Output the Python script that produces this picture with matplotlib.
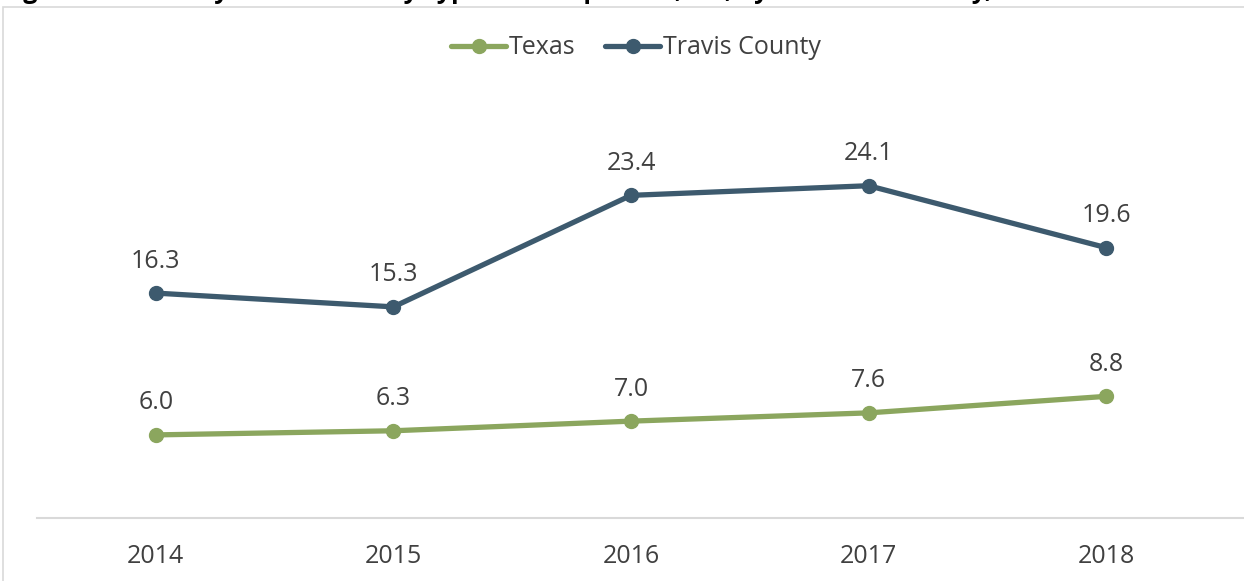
import matplotlib
matplotlib.use('Agg')
import matplotlib.pyplot as plt
from matplotlib.patches import Rectangle

years = ['2014', '2015', '2016', '2017', '2018']
texas = [6.0, 6.3, 7.0, 7.6, 8.8]
travis = [16.3, 15.3, 23.4, 24.1, 19.6]
title = 'Figure 10. Primary and secondary syphilis rate per 100,000, by state and county, 2014-2018'

green = '#8BA65E'
blue = '#3D5A6E'
grey = '#404040'

plt.rcParams['font.family'] = ['Open Sans', 'DejaVu Sans']

W, H = 1244, 581
fig = plt.figure(figsize=(W/100, H/100), dpi=100)
ax = fig.add_axes([37/W, (H-517.5)/H, (1225-37)/W, (517.5-104.5)/H])

# chart border (only top and left show in the crop)
fig.add_artist(Rectangle((3/W, -0.1), 1.2, (H-7)/H+0.1, transform=fig.transFigure,
                         fill=False, edgecolor='#D9D9D9', lw=1.2))
# title is cut off at the top of the picture
fig.text(2/W, 1.0+8/H, title, fontsize=18, fontweight='bold', color='black',
         ha='left', va='center')

x = list(range(len(years)))
ax.plot(x, texas, color=green, lw=3.8, marker='o', ms=10, label='Texas', solid_capstyle='round')
ax.plot(x, travis, color=blue, lw=3.8, marker='o', ms=10, label='Travis County', solid_capstyle='round')

for xi, v in zip(x, texas):
    ax.annotate('%.1f' % v, (xi, v), xytext=(0, 14), textcoords='offset points',
                ha='center', va='bottom', fontsize=18, color=grey)
for xi, v in zip(x, travis):
    ax.annotate('%.1f' % v, (xi, v), xytext=(0, 14), textcoords='offset points',
                ha='center', va='bottom', fontsize=18, color=grey)

ax.set_xlim(-0.5, 4.5)
ax.set_ylim(0, 30)
ax.set_xticks(x)
ax.set_xticklabels(years, fontsize=18, color=grey)
ax.set_yticks([])
ax.tick_params(axis='x', length=0, pad=19)
for s in ['top', 'right', 'left']:
    ax.spines[s].set_visible(False)
ax.spines['bottom'].set_color('#D9D9D9')
ax.spines['bottom'].set_linewidth(1.5)
ax.spines['bottom'].set_bounds(-0.5, 5)

leg = fig.legend(loc='center', bbox_to_anchor=(636/W, 1-48/H), ncol=2, frameon=False,
                 fontsize=18, handlelength=2.2, handletextpad=0.1, columnspacing=1.2,
                 labelcolor=grey)

fig.savefig('out.png', dpi=100)
